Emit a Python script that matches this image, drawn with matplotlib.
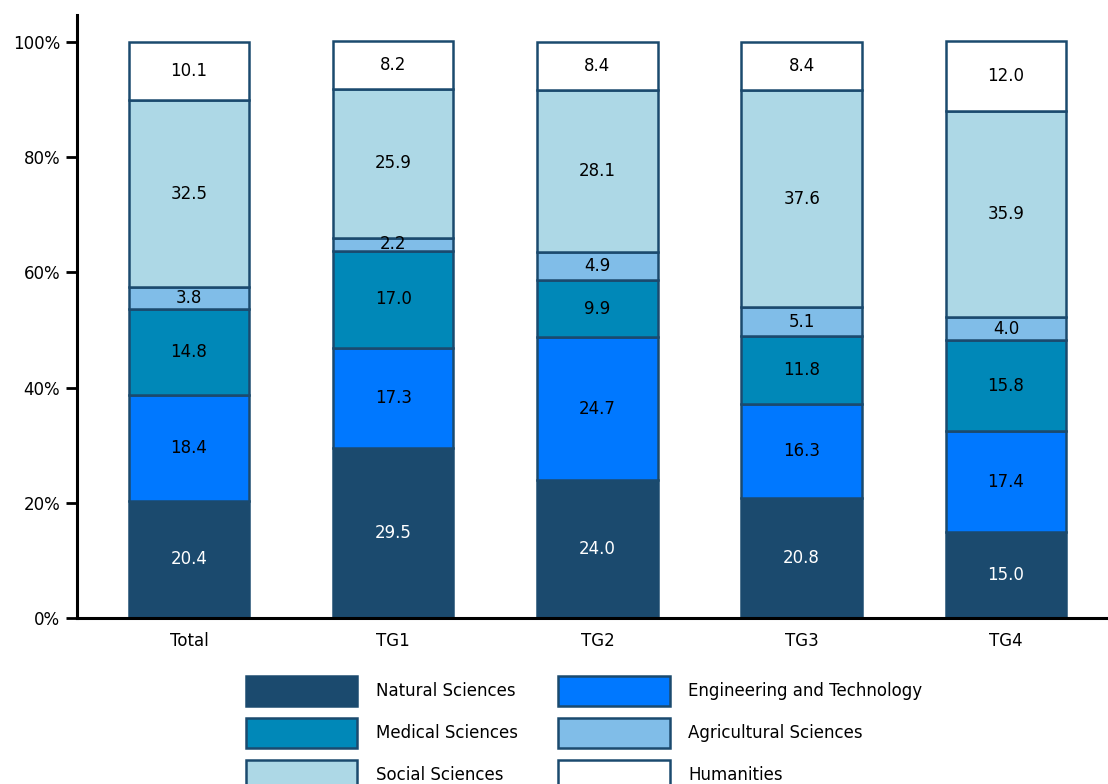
import matplotlib
matplotlib.use('Agg')
import matplotlib.pyplot as plt
import matplotlib.ticker as ticker
import numpy as np

plt.rcParams['font.family'] = ['DejaVu Sans']

# data
groups = ['Total', 'TG1', 'TG2', 'TG3', 'TG4']
fields = ['Natural Sciences', 'Engineering and Technology', 'Medical Sciences',
          'Agricultural Sciences', 'Social Sciences', 'Humanities']
natural = [20.4, 29.5, 24.0, 20.8, 15.0]
engineering = [18.4, 17.3, 24.7, 16.3, 17.4]
medical = [14.8, 17.0, 9.9, 11.8, 15.8]
agricultural = [3.8, 2.2, 4.9, 5.1, 4.0]
social = [32.5, 25.9, 28.1, 37.6, 35.9]
humanities = [10.1, 8.2, 8.4, 8.4, 12.0]

series = [natural, engineering, medical, agricultural, social, humanities]
colors = ['#1B4A6E', '#0078FF', '#0088B8', '#80BDE8', '#ADD8E6', '#FFFFFF']
text_colors = ['white', 'black', 'black', 'black', 'black', 'black']
EDGE = '#1B4A6E'

fig = plt.figure(figsize=(11.08, 7.84), dpi=100)
ax = fig.add_axes([0.0695, 0.2117, 0.9305, 0.7693])

x = np.arange(len(groups))
bottom = np.zeros(len(groups))
handles = []
for i, vals in enumerate(series):
    v = np.array(vals) / 100.0
    bars = ax.bar(x, v, 0.59, bottom=bottom, color=colors[i], edgecolor=EDGE,
                  linewidth=1.8, label=fields[i], zorder=2)
    handles.append(bars)
    for xi, b, val in zip(x, bottom, vals):
        ax.text(xi, b + val / 200.0, '%.1f' % val, ha='center', va='center',
                fontsize=12, color=text_colors[i], zorder=3)
    bottom += v

ax.set_xlim(-0.548, 4.5)
ax.set_ylim(0, 1.047)
ax.yaxis.set_major_locator(ticker.MultipleLocator(0.2))
ax.yaxis.set_major_formatter(ticker.PercentFormatter(1.0, decimals=0))
ax.set_xticks(x)
ax.set_xticklabels(groups)
ax.tick_params(axis='x', length=0, labelsize=12, pad=10)
ax.tick_params(axis='y', length=8, width=2, labelsize=12, pad=4)

ax.spines['right'].set_visible(False)
ax.spines['top'].set_visible(False)
ax.spines['left'].set_linewidth(2.2)
ax.spines['bottom'].set_linewidth(2.2)

# legend, row by row
order = [0, 2, 4, 1, 3, 5]
leg = fig.legend([handles[k] for k in order], [fields[k] for k in order],
                 loc='upper center', bbox_to_anchor=(0.527, 0.148), ncol=2,
                 frameon=False, fontsize=12, handlelength=6.7, handleheight=2.39,
                 handletextpad=1.1, columnspacing=2.42, labelspacing=0.72,
                 borderpad=0)

fig.savefig('out.png', dpi=100)
plt.close('all')
